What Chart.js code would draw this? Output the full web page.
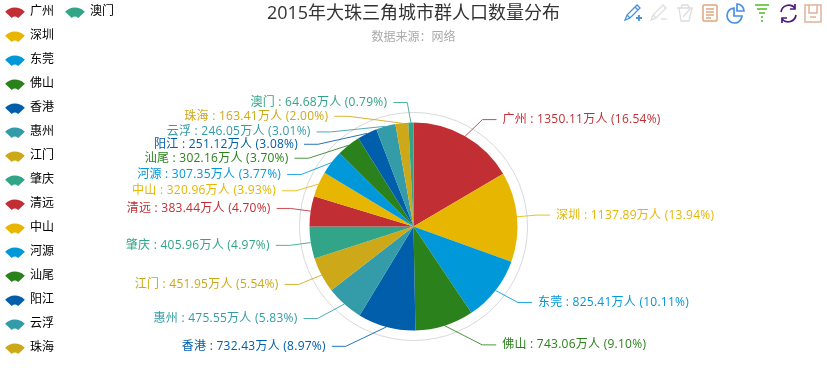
<!DOCTYPE html>
<html>
<head>
<meta charset="utf-8">
<script src="https://cdn.jsdelivr.net/npm/chart.js@4/dist/chart.umd.min.js"></script>
<style>
  html, body { margin: 0; padding: 0; background: #fff; }
  #wrap { position: relative; width: 827px; height: 378px; overflow: hidden; }
  #toolbox { position: absolute; left: 0; top: 0; }
</style>
</head>
<body>
<div id="wrap">
  <canvas id="cityChart" width="827" height="378"></canvas>
  <svg id="toolbox" width="827" height="30" fill="none" stroke-width="1.3">
    <g stroke="#4a90d9"><path d="M625 20l2-5 10-10 3 3-10 10zM627 15l3 3M635 7l3 3"/><path d="M636 18h6M639 15v6" stroke-width="1.8"/></g>
    <g stroke="#ddd"><path d="M651 20l2-5 10-10 3 3-10 10zM653 15l3 3"/><path d="M661 19h6"/></g>
    <g stroke="#ddd"><path d="M677 8h16M681 8l1-3h6l1 3M679 8l2 13h8l3-13M683 17l7-8"/></g>
    <g stroke="#dfa67c" stroke-width="1.5"><rect x="703" y="5" width="14" height="16" rx="1"/><path d="M706 9h8M706 12h8M706 15h8M706 18h5"/></g>
    <g stroke="#4a90e2" stroke-width="1.7"><path d="M734 8a7.500 7.500 0 1 0 8 8h-8z"/><path d="M737 4a7 7 0 0 1 7 7h-7z"/></g>
    <g stroke="#7ccb58" stroke-width="2"><path d="M755 5h14M757 9h10M759 13h6M761 17h2M762 20v2"/></g>
    <g stroke="#4b1b7e" stroke-width="1.7"><path d="M781 12a8 8 0 0 1 14-4M795 4v5h-5M796 15a8 8 0 0 1-14 4M782 23v-5h5"/></g>
    <g stroke="#deb29b" stroke-width="1.5"><path d="M805 5h16v17h-16zM809 5v8h8v-8M810 17h6"/></g>
  </svg>
</div>
<script>
const cities = ['广州', '深圳', '东莞', '佛山', '香港', '惠州', '江门', '肇庆', '清远', '中山', '河源', '汕尾', '阳江', '云浮', '珠海', '澳门'];
const population = [1350.11, 1137.89, 825.41, 743.06, 732.43, 475.55, 451.95, 405.96, 383.44, 320.96, 307.35, 302.16, 251.12, 246.05, 163.41, 64.68];
const palette = ['#c12e34', '#e6b600', '#0098d9', '#2b821d', '#005eaa', '#339ca8', '#cda819', '#32a487'];
// manual nudges of the outer labels so they don't collide, same order as cities
const labelShiftY = [-1, 0, 1, 2, 2, 1, 1, 0, 0, 14, 23, 27, 27, 23, 11, -2];
const labelShiftX = [-9, -2, 1, 5, -6, -4, -2, 0, 1, 3, 3, 3, 4, 7, 9, 49];

const colors = cities.map((c, i) => palette[i % palette.length]);
const total = population.reduce((a, b) => a + b, 0);

function fanIcon(color) {
  const c = document.createElement('canvas');
  c.width = 20;
  c.height = 12;
  const g = c.getContext('2d');
  g.fillStyle = color;
  g.beginPath();
  g.arc(10, 15, 13.5, -Math.PI / 2 - 0.82, -Math.PI / 2 + 0.82);
  g.arc(10, 15, 4.5, -Math.PI / 2 + 0.82, -Math.PI / 2 - 0.82, true);
  g.closePath();
  g.fill();
  return c;
}

const pieExtras = {
  id: 'pieExtras',
  afterLayout(chart) {
    chart.legend.left -= 6;
    chart.legend.top = -6;
    chart.legend.bottom = 372;
  },
  afterDatasetsDraw(chart) {
    const ctx = chart.ctx;
    const arcs = chart.getDatasetMeta(0).data;
    const cx = arcs[0].x, cy = arcs[0].y, r = arcs[0].outerRadius;
    ctx.save();
    ctx.strokeStyle = '#d8d8dc';
    ctx.lineWidth = 1;
    ctx.beginPath();
    ctx.arc(cx, cy, r + 10, 0, Math.PI * 2);
    ctx.stroke();

    ctx.font = '12px "Open Sans", "Noto Sans CJK SC", sans-serif';
    ctx.letterSpacing = '0.25px';
    ctx.textBaseline = 'middle';
    arcs.forEach((arc, i) => {
      const mid = (arc.startAngle + arc.endAngle) / 2;
      const side = Math.cos(mid) >= 0 ? 1 : -1;
      const sx = cx + Math.cos(mid) * r, sy = cy + Math.sin(mid) * r;
      const y = cy + Math.sin(mid) * (r + 18) + labelShiftY[i];
      const dy = y - cy;
      const tx = cx + side * Math.sqrt(145 * 145 - dy * dy) + labelShiftX[i];
      ctx.strokeStyle = colors[i];
      ctx.globalAlpha = 0.85;
      ctx.beginPath();
      ctx.moveTo(sx, sy);
      ctx.lineTo(tx - side * 20, y);
      ctx.lineTo(tx - side * 6, y);
      ctx.stroke();
      ctx.globalAlpha = 1;
      ctx.fillStyle = colors[i];
      ctx.textAlign = side > 0 ? 'left' : 'right';
      const pct = (population[i] / total * 100).toFixed(2);
      ctx.fillText(cities[i] + ' : ' + population[i] + '万人 (' + pct + '%)', tx, y);
    });
    ctx.restore();
  }
};

new Chart(document.getElementById('cityChart'), {
  type: 'pie',
  data: {
    labels: cities,
    datasets: [{
      data: population,
      backgroundColor: colors,
      borderWidth: 0,
      radius: 104
    }]
  },
  options: {
    responsive: false,
    animation: false,
    layout: { padding: { right: 130 } },
    plugins: {
      tooltip: { enabled: false },
      title: {
        display: true,
        fullSize: false,
        text: '2015年大珠三角城市群人口数量分布',
        color: '#333',
        font: { size: 18, weight: 'normal', family: '"Open Sans", "Noto Sans CJK SC", sans-serif' },
        padding: { top: 3, bottom: 1 }
      },
      subtitle: {
        display: true,
        fullSize: false,
        text: '数据来源：网络',
        color: '#aaa',
        font: { size: 12, weight: 'normal', family: '"Open Sans", "Noto Sans CJK SC", sans-serif' },
        padding: { top: 5, bottom: 30 }
      },
      legend: {
        position: 'left',
        align: 'start',
        labels: {
          usePointStyle: true,
          pointStyleWidth: 18,
          padding: 12,
          color: '#333',
          font: { size: 12, family: '"Open Sans", "Noto Sans CJK SC", sans-serif' },
          generateLabels: () => cities.map((c, i) => ({
            text: c,
            fillStyle: colors[i],
            strokeStyle: colors[i],
            lineWidth: 0,
            pointStyle: fanIcon(colors[i]),
            index: i
          }))
        }
      }
    }
  },
  plugins: [pieExtras]
});
</script>
</body>
</html>
